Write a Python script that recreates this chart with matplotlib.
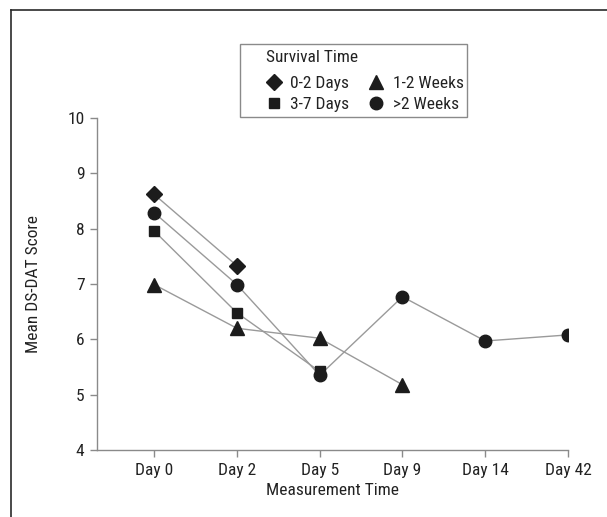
import matplotlib.pyplot as plt
from matplotlib.lines import Line2D
from matplotlib.patches import Rectangle
from matplotlib import font_manager

# 細めの書体があれば使う
names = {f.name for f in font_manager.fontManager.ttflist}
cands = [n for n in ["Liberation Sans Narrow", "DejaVu Sans Condensed", "Roboto Condensed"] if n in names]
plt.rcParams['font.family'] = cands + ['DejaVu Sans']
plt.rcParams['font.stretch'] = 'condensed'

# 測定日（カテゴリ）
days = ["Day 0", "Day 2", "Day 5", "Day 9", "Day 14", "Day 42"]

# 各グループの平均スコア
days_0_2 = [8.62, 7.33]
days_3_7 = [7.96, 6.48, 5.42]
weeks_1_2 = [6.99, 6.20, 6.02, 5.18]
weeks_over_2 = [8.29, 6.99, 5.35, 6.77, 5.97, 6.08]

W, H = 607, 517
fig = plt.figure(figsize=(W / 100, H / 100), dpi=100)
ax = fig.add_axes([97 / W, 1 - 450 / H, 471 / W, 332 / H])

line_col = "#9a9a9a"
mk_col = "#1c1c1c"
txt_col = "#222222"

series = [
    (days_0_2, "D", 8.5, "0-2 Days"),
    (weeks_1_2, "^", 9.5, "1-2 Weeks"),
    (days_3_7, "s", 7.5, "3-7 Days"),
    (weeks_over_2, "o", 9, ">2 Weeks"),
]
handles = {}
for vals, mk, ms, lab in series:
    xs = list(range(len(vals)))
    ax.plot(xs, vals, color=line_col, lw=1.0, zorder=1)
    h = ax.plot(xs, vals, ls="none", marker=mk, ms=ms, color=mk_col,
                mec=mk_col, zorder=2, label=lab)[0]
    handles[lab] = h

ax.set_xlim(-0.69, 5)
ax.set_ylim(4, 10)
ax.set_xticks(range(len(days)))
ax.set_xticklabels(days)
ax.set_yticks(range(4, 11))

for s in ["top", "right"]:
    ax.spines[s].set_visible(False)
for s in ["left", "bottom"]:
    ax.spines[s].set_color("#8a8a8a")
    ax.spines[s].set_linewidth(1.0)
ax.tick_params(colors="#8a8a8a", labelcolor=txt_col, labelsize=12.5, length=5, width=1, pad=4)

ax.set_xlabel("Measurement Time", fontsize=12.5, color=txt_col, labelpad=4)
ax.set_ylabel("Mean DS-DAT Score", fontsize=12.5, color=txt_col, labelpad=19)

# 凡例（枠は別に描く）
order = ["0-2 Days", "3-7 Days", "1-2 Weeks", ">2 Weeks"]
leg = fig.legend([handles[k] for k in order], order, ncol=2,
                 title="Survival Time", loc="upper left",
                 bbox_to_anchor=(266 / W, 1 - 50 / H), borderaxespad=0,
                 fontsize=12.5, title_fontsize=12.5, frameon=False,
                 handletextpad=0.5, columnspacing=1.1, borderpad=0,
                 labelspacing=0.3, handlelength=0.9)
leg._legend_box.align = "left"
leg._legend_box.sep = 8
for t in leg.get_texts() + [leg.get_title()]:
    t.set_color(txt_col)
fig.add_artist(Rectangle((240 / W, 1 - 117 / H), 227 / W, 73 / H, transform=fig.transFigure,
                         fill=False, edgecolor="#8a8a8a", lw=1.0))

# 外枠（上と左のみ）
fig.add_artist(Line2D([11 / W, 11 / W], [0, 1 - 10 / H], transform=fig.transFigure,
                      color="#2a2a2a", lw=1.2))
fig.add_artist(Line2D([11 / W, 1], [1 - 10 / H, 1 - 10 / H], transform=fig.transFigure,
                      color="#2a2a2a", lw=1.2))

fig.savefig("out.png", dpi=100)
